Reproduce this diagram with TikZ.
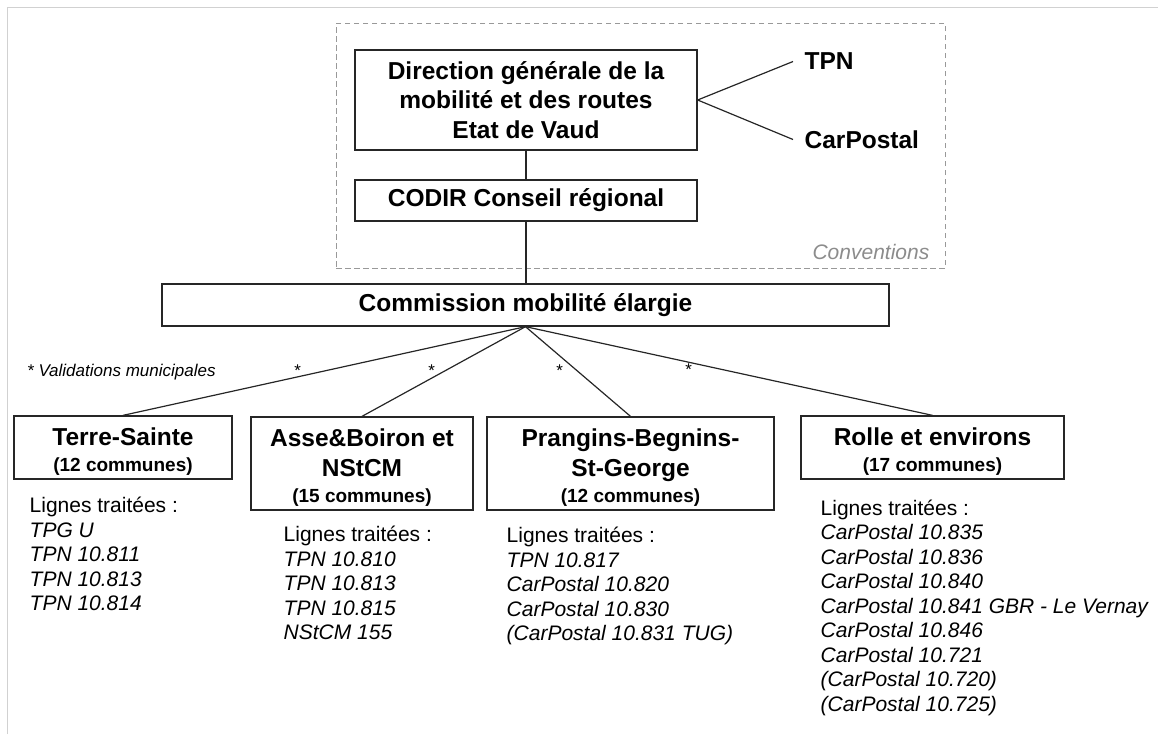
\documentclass[tikz,border=0pt]{standalone}
\usepackage{fontspec}
\setmainfont{Liberation Sans}
\usepackage{tikz}

\begin{document}
\begin{tikzpicture}[x=1pt,y=-1pt,
    box/.style={draw=black!85,line width=1.3pt,align=center,inner sep=0pt,
      font=\fontsize{24.5}{29.7}\selectfont\bfseries},
    link/.style={draw=black!85,line width=1.2pt},
    list/.style={anchor=north west,align=left,inner sep=0pt,
      font=\fontsize{21}{24.5}\selectfont},
    star/.style={inner sep=0pt,font=\fontsize{17}{17}\selectfont\itshape}]
  \def\communes#1{\\[-4pt]{\fontsize{19}{23}\selectfont #1}}
  \def\titlestrut{\rule{0pt}{26pt}}
  \def\liststrut{\rule{0pt}{17pt}}
  \useasboundingbox (0,0) rectangle (1158,734);
  % page frame
  \draw[black!18,line width=1.5pt] (7.5,734) -- (7.5,7.5) -- (1158,7.5);

  % conventions
  \node[draw=black!40,dash pattern=on 5.5pt off 3.5pt,line width=1pt,inner sep=0pt,
    minimum width=609pt,minimum height=245pt] (conv) at (640.5,145.5) {};
  \node[anchor=base east,inner sep=0pt,text=black!45,
    font=\fontsize{21}{21}\selectfont\itshape] (convlabel)
    at ([shift={(-16,-9)}]conv.south east) {Conventions};

  \node[box,minimum width=342pt,minimum height=100pt] (dir) at (526,100)
    {Direction générale de la\\mobilité et des routes\\Etat de Vaud};
  \node[box,minimum width=342pt,minimum height=41pt] (codir) at (526,200.5)
    {CODIR Conseil régional};
  \node[box,draw=none,anchor=west,inner xsep=11pt] (tpn) at (793,61.5) {TPN};
  \node[box,draw=none,anchor=west,inner xsep=11pt] (carpostal) at (793,139.5) {CarPostal};
  \draw[link] (dir.east) -- (tpn.west);
  \draw[link] (dir.east) -- (carpostal.west);
  \draw[link] (dir) -- (codir);

  \node[box,minimum width=727pt,minimum height=42pt] (comm) at (525.5,305)
    {Commission mobilité élargie};
  \draw[link] (codir.south) -- (codir.south |- comm.north);

  % regions
  \node[box,minimum width=218pt,minimum height=63pt] (terre) at (123,447.5)
    {\titlestrut Terre-Sainte\communes{(12 communes)}};
  \node[box,minimum width=222pt,minimum height=93pt] (asse) at (362,463.5)
    {\titlestrut Asse\&Boiron et\\NStCM\communes{(15 communes)}};
  \node[box,minimum width=287pt,minimum height=93pt] (prang) at (630.5,463.5)
    {\titlestrut Prangins-Begnins-\\St-George\communes{(12 communes)}};
  \node[box,minimum width=263pt,minimum height=63pt] (rolle) at (932.5,447.5)
    {\titlestrut Rolle et environs\communes{(17 communes)}};
  \foreach \r in {terre,asse,prang,rolle}
    \draw[link] (comm.south) -- (\r.north);

  \node[star] (s1) at (297,371) {*};
  \node[star] (s2) at (431,371) {*};
  \node[star] (s3) at (559,371) {*};
  \node[star] (s4) at (688,370) {*};
  \node[star,anchor=base west] (valid) at (27,376) {* Validations municipales};

  % lignes
  \node[list] (terreL) at (29.5,495.7) {\liststrut Lignes traitées :\\
    \textit{TPG U}\\\textit{TPN 10.811}\\\textit{TPN 10.813}\\\textit{TPN 10.814}};
  \node[list] (asseL) at (283.5,524.5) {\liststrut Lignes traitées :\\
    \textit{TPN 10.810}\\\textit{TPN 10.813}\\\textit{TPN 10.815}\\\textit{NStCM 155}};
  \node[list] (prangL) at (506.5,525.3) {\liststrut Lignes traitées :\\
    \textit{TPN 10.817}\\\textit{CarPostal 10.820}\\\textit{CarPostal 10.830}\\
    \textit{(CarPostal 10.831 TUG)}};
  \node[list] (rolleL) at (820.5,498) {\liststrut Lignes traitées :\\
    \textit{CarPostal 10.835}\\\textit{CarPostal 10.836}\\\textit{CarPostal 10.840}\\
    \textit{CarPostal 10.841 GBR - Le Vernay}\\\textit{CarPostal 10.846}\\
    \textit{CarPostal 10.721}\\\textit{(CarPostal 10.720)}\\\textit{(CarPostal 10.725)}};
\end{tikzpicture}
\end{document}
